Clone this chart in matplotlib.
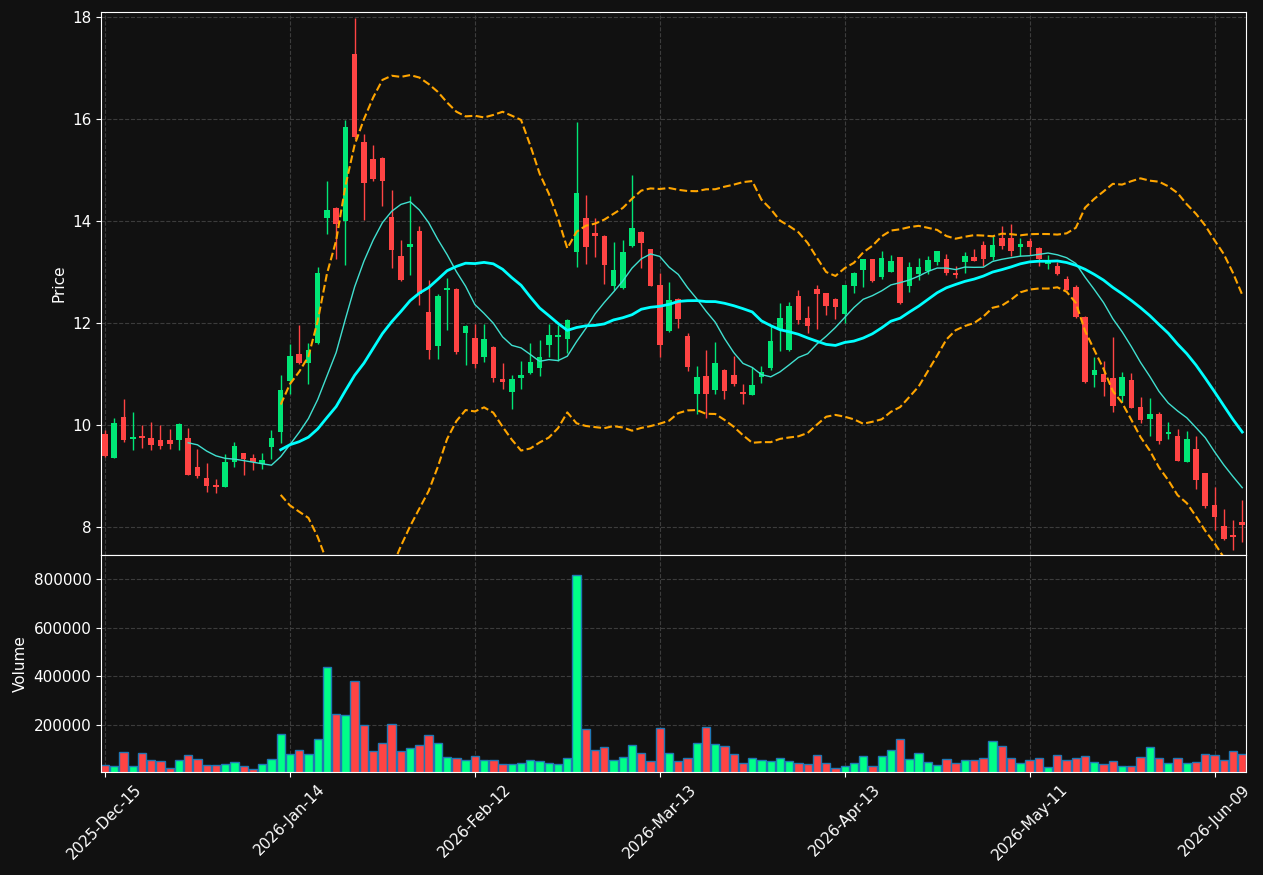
import numpy as np
import pandas as pd
import matplotlib
matplotlib.use('Agg')
import matplotlib.pyplot as plt

# daily OHLC (trading days from 2025-12-15)
opens = [9.82, 9.36, 10.16, 9.73, 9.77, 9.75, 9.71, 9.71, 9.71, 9.74,
         9.17, 8.96, 8.82, 8.79, 9.27, 9.45, 9.35, 9.24, 9.575, 9.87,
         10.86, 11.40, 11.22, 11.61, 14.05, 14.25, 14.00, 17.28, 15.55, 15.22,
         15.24, 14.08, 13.31, 13.50, 13.80, 12.22, 11.54, 12.64, 12.66, 11.81,
         11.71, 11.34, 11.53, 10.90, 10.65, 10.93, 11.01, 11.12, 11.57, 11.73,
         11.69, 13.40, 14.06, 13.76, 13.71, 12.73, 12.69, 13.52, 13.78, 13.45,
         12.75, 11.85, 12.48, 11.75, 10.61, 10.96, 10.69, 11.08, 10.98, 10.63,
         10.59, 10.95, 11.12, 11.86, 11.47, 12.53, 12.10, 12.67, 12.58, 12.47,
         12.18, 12.73, 13.03, 13.25, 12.90, 13.01, 13.29, 12.73, 12.97, 13.02,
         13.19, 13.25, 12.97, 13.20, 13.29, 13.53, 13.30, 13.67, 13.67, 13.50,
         13.61, 13.48, 13.16, 13.12, 12.86, 12.70, 12.11, 10.99, 11.00, 10.92,
         10.57, 10.88, 10.35, 10.12, 10.22, 9.82, 9.78, 9.28, 9.53, 9.05,
         8.43, 8.01, 7.83, 8.10]
highs = [9.90, 10.13, 10.50, 10.25, 10.00, 10.05, 10.00, 9.93, 10.04, 9.95,
         9.52, 9.25, 8.95, 9.44, 9.67, 9.46, 9.44, 9.46, 9.90, 10.99,
         11.58, 11.97, 11.61, 13.10, 14.78, 14.27, 15.99, 17.98, 15.71, 15.50,
         15.25, 14.60, 13.62, 14.50, 13.90, 12.84, 12.57, 12.89, 12.68, 11.97,
         11.98, 11.99, 11.55, 11.21, 10.99, 11.25, 11.60, 11.66, 11.99, 11.96,
         12.07, 15.95, 14.52, 14.05, 13.72, 13.58, 13.63, 14.90, 13.80, 13.46,
         12.99, 12.80, 12.50, 11.80, 11.16, 11.48, 11.62, 11.09, 11.35, 10.80,
         11.14, 11.16, 11.95, 12.39, 12.41, 12.65, 12.33, 12.75, 12.59, 12.50,
         12.75, 13.00, 13.26, 13.26, 13.42, 13.33, 13.30, 13.19, 13.27, 13.31,
         13.42, 13.35, 13.12, 13.40, 13.45, 13.61, 13.71, 13.90, 13.95, 13.66,
         13.66, 13.49, 13.33, 13.20, 12.92, 12.74, 12.14, 11.34, 11.26, 11.72,
         11.03, 11.01, 10.54, 10.52, 10.25, 10.06, 9.92, 9.89, 9.79, 9.06,
         8.79, 8.35, 8.14, 8.52]
lows = [9.38, 9.35, 9.66, 9.50, 9.54, 9.50, 9.53, 9.52, 9.50, 9.01,
        8.97, 8.68, 8.67, 8.78, 9.17, 9.02, 9.12, 9.13, 9.33, 9.64,
        10.61, 11.20, 10.80, 11.58, 13.74, 13.25, 13.13, 15.60, 14.03, 14.78,
        14.29, 13.08, 12.82, 12.95, 12.35, 11.30, 11.30, 11.86, 11.40, 11.17,
        11.11, 11.24, 10.84, 10.71, 10.31, 10.70, 11.00, 10.97, 11.33, 11.25,
        11.41, 13.09, 13.15, 13.30, 12.76, 12.65, 12.66, 13.50, 13.07, 12.72,
        11.33, 11.83, 11.90, 11.06, 10.21, 10.13, 10.60, 10.50, 10.76, 10.41,
        10.58, 10.82, 11.07, 11.46, 11.45, 11.99, 11.81, 11.88, 12.15, 12.07,
        12.01, 12.59, 12.71, 12.81, 12.86, 13.00, 12.37, 12.60, 12.84, 12.96,
        13.14, 12.95, 12.88, 12.99, 13.21, 13.12, 13.24, 13.46, 13.32, 13.32,
        13.33, 13.12, 13.05, 12.95, 12.64, 12.10, 10.83, 10.75, 10.57, 10.26,
        10.46, 10.33, 10.03, 9.79, 9.62, 9.72, 9.29, 9.27, 8.75, 8.37,
        7.95, 7.75, 7.55, 7.71]
closes = [9.39, 10.03, 9.71, 9.76, 9.75, 9.61, 9.59, 9.63, 10.02, 9.02,
          8.99, 8.80, 8.78, 9.27, 9.59, 9.33, 9.28, 9.31, 9.745, 10.69,
          11.35, 11.22, 11.48, 12.98, 14.21, 13.95, 15.84, 15.64, 14.75, 14.83,
          14.78, 13.44, 12.84, 13.52, 12.57, 11.48, 12.53, 12.67, 11.43, 11.95,
          11.20, 11.69, 10.92, 10.85, 10.90, 10.98, 11.24, 11.33, 11.76, 11.76,
          12.06, 14.55, 13.50, 13.71, 13.14, 13.04, 13.39, 13.86, 13.57, 12.73,
          11.57, 12.45, 12.07, 11.14, 10.94, 10.61, 11.22, 10.67, 10.81, 10.60,
          10.78, 11.04, 11.64, 12.10, 12.33, 12.06, 11.95, 12.57, 12.34, 12.32,
          12.74, 12.99, 13.25, 12.82, 13.27, 13.22, 12.40, 13.09, 13.10, 13.23,
          13.41, 12.99, 12.95, 13.31, 13.22, 13.25, 13.53, 13.51, 13.41, 13.53,
          13.50, 13.25, 13.22, 12.96, 12.65, 12.12, 10.84, 11.08, 10.85, 10.38,
          10.95, 10.34, 10.10, 10.22, 9.69, 9.85, 9.30, 9.73, 8.92, 8.41,
          8.20, 7.76, 7.81, 8.04]
volumes = [36, 30, 88, 30, 84, 56, 51, 23, 56, 77,
           60, 36, 36, 40, 48, 29, 19, 40, 60, 163,
           81, 97, 81, 143, 438, 245, 241, 381, 200, 93,
           126, 204, 93, 106, 118, 159, 126, 69, 64, 56,
           73, 56, 56, 40, 40, 44, 56, 52, 44, 40,
           64, 818, 184, 97, 110, 56, 69, 118, 85, 52,
           188, 85, 52, 64, 126, 192, 122, 114, 81, 44,
           64, 56, 52, 64, 52, 44, 40, 77, 44, 23,
           32, 44, 73, 32, 73, 97, 143, 60, 85, 48,
           36, 60, 44, 56, 56, 64, 134, 114, 64, 44,
           56, 64, 27, 77, 56, 64, 73, 48, 40, 52,
           32, 32, 69, 110, 64, 44, 64, 44, 48, 81,
           77, 56, 93, 81]
volumes = [v * 1000 for v in volumes]

holidays = ['2025-12-25', '2026-01-01', '2026-01-19', '2026-02-16',
            '2026-04-03', '2026-05-25']
dates = pd.bdate_range('2025-12-15', '2026-06-30')
dates = dates[~dates.isin(pd.to_datetime(holidays))][:len(closes)]

df = pd.DataFrame({'Open': opens, 'High': highs, 'Low': lows,
                   'Close': closes, 'Volume': volumes}, index=dates)
df['MA10'] = df['Close'].rolling(10).mean()
df['MA20'] = df['Close'].rolling(20).mean()
std20 = df['Close'].rolling(20).std(ddof=0)
df['BBU'] = df['MA20'] + 2 * std20
df['BBL'] = df['MA20'] - 2 * std20

bg = '#111111'
up_c = '#00e676'
dn_c = '#ff4444'
plt.rcParams['font.size'] = 11

fig = plt.figure(figsize=(12.63, 8.75), dpi=100, facecolor=bg)
ax = fig.add_axes([0.080, 0.3657, 0.9065, 0.6206])
axv = fig.add_axes([0.080, 0.1177, 0.9065, 0.248], sharex=ax)

x = np.arange(len(df))
up = df['Close'] >= df['Open']
colors = np.where(up, up_c, dn_c)

ax.vlines(x, df['Low'], df['High'], colors=colors, linewidth=1, zorder=2)
body_lo = np.minimum(df['Open'], df['Close'])
body_h = np.maximum((df['Close'] - df['Open']).abs(), 0.04)
ax.bar(x, body_h, bottom=body_lo, width=0.6, color=colors, zorder=3)

ax.plot(x, df['MA10'], color='#40e0d0', linewidth=1, zorder=4)
ax.plot(x, df['MA20'], color='#00ffff', linewidth=2, zorder=4)
ax.plot(x, df['BBU'], color='orange', linestyle='--', linewidth=1.5, zorder=4)
ax.plot(x, df['BBL'], color='orange', linestyle='--', linewidth=1.5, zorder=4)

vcolors = np.where(up, '#00ff88', '#ff4444')
axv.bar(x, df['Volume'], width=0.9, color=vcolors, edgecolor='#1f77b4', linewidth=1)

for a in (ax, axv):
    a.set_facecolor(bg)
    for s in a.spines.values():
        s.set_color('white')
    a.tick_params(colors='white', labelsize=11)
    a.grid(True, color='#3c3c3c', linestyle='--', linewidth=0.8)
    a.set_axisbelow(True)

ax.set_ylim(7.45, 18.1)
ax.set_ylabel('Price', color='white')
plt.setp(ax.get_xticklabels(), visible=False)

axv.set_ylim(0.3 * min(volumes), 1.1 * max(volumes))
axv.set_ylabel('Volume', color='white')
axv.set_yticks([200000, 400000, 600000, 800000])

ticks = list(range(0, len(df), 20))
axv.set_xticks(ticks)
axv.set_xticklabels([dates[i].strftime('%Y-%b-%d') for i in ticks], rotation=45)
axv.set_xlim(-0.43, 123.4)

fig.savefig('out.png', facecolor=bg)
